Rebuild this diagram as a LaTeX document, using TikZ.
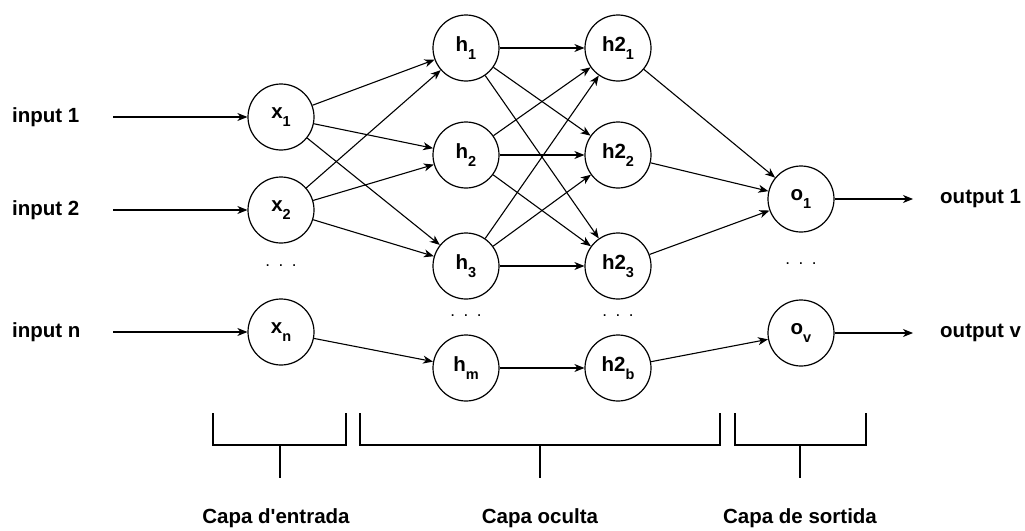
\documentclass[tikz,border=0pt]{standalone}
\usepackage{fontspec}
\setmainfont{Liberation Sans}
\usetikzlibrary{arrows.meta}
\newcommand{\lsub}[1]{\raisebox{-0.4em}{\fontsize{14.5}{14.5}\selectfont #1}}
\begin{document}
\begin{tikzpicture}[x=1pt,y=-1pt,
  neuron/.style={draw, circle, line width=1.2pt, minimum size=66pt, inner sep=0pt,
    font=\fontsize{20.5}{24}\selectfont\bfseries},
  lbl/.style={font=\fontsize{20.5}{24}\selectfont\bfseries, inner sep=0pt},
  dots/.style={font=\fontsize{17}{20}\selectfont, inner sep=0pt},
  arr/.style={line width=1.1pt, -{Stealth[length=10pt,width=8pt,inset=3pt]}},
  brk/.style={line width=1.4pt}]
\useasboundingbox (0,0) rectangle (1025,530);
% input layer
\node[neuron] (x1) at (281,117) {x\lsub{1}};
\node[neuron] (x2) at (281,210) {x\lsub{2}};
\node[dots] (xd) at (281,266) {.\,\,\,.\,\,\,.};
\node[neuron] (xn) at (281,332) {x\lsub{n}};
% hidden layer 1
\node[neuron] (h1) at (466,48) {h\lsub{1}};
\node[neuron] (h2) at (466,155) {h\lsub{2}};
\node[neuron] (h3) at (466,266) {h\lsub{3}};
\node[dots] (hd) at (466,316) {.\,\,\,.\,\,\,.};
\node[neuron] (hm) at (466,368) {h\lsub{m}};
% hidden layer 2
\node[neuron] (g1) at (618,48) {h2\lsub{1}};
\node[neuron] (g2) at (618,155) {h2\lsub{2}};
\node[neuron] (g3) at (618,266) {h2\lsub{3}};
\node[dots] (gd) at (618,316) {.\,\,\,.\,\,\,.};
\node[neuron] (gb) at (618,368) {h2\lsub{b}};
% output layer
\node[neuron] (o1) at (801,199) {o\lsub{1}};
\node[dots] (od) at (801,264) {.\,\,\,.\,\,\,.};
\node[neuron] (ov) at (801,333) {o\lsub{v}};
% input labels
\node[lbl, anchor=west] (i1) at (12,117) {input 1};
\node[lbl, anchor=west] (i2) at (12,210) {input 2};
\node[lbl, anchor=west] (in) at (12,332) {input n};
\coordinate (s1) at (113,117);
\coordinate (s2) at (113,210);
\coordinate (sn) at (113,332);
\draw[arr] (s1) -- (x1);
\draw[arr] (s2) -- (x2);
\draw[arr] (sn) -- (xn);
% output labels
\coordinate (e1) at (913,199);
\coordinate (ev) at (913,333);
\node[lbl, anchor=west] (out1) at (940,199) {output 1};
\node[lbl, anchor=west] (outv) at (940,333) {output v};
\draw[arr] (o1) -- (e1);
\draw[arr] (ov) -- (ev);
% connections
\foreach \a in {x1,x2} \foreach \b in {h1,h2,h3} \draw[arr] (\a) -- (\b);
\draw[arr] (xn) -- (hm);
\foreach \a in {h1,h2,h3} \foreach \b in {g1,g2,g3} \draw[arr] (\a) -- (\b);
\draw[arr] (hm) -- (gb);
\foreach \a in {g1,g2,g3} \draw[arr] (\a) -- (o1);
\draw[arr] (gb) -- (ov);
% brackets
\draw[brk] (213,413) -- (213,445) -- (346,445) -- (346,413);
\draw[brk] (280,445) -- (280,478);
\draw[brk] (360,413) -- (360,445) -- (720,445) -- (720,413);
\draw[brk] (540,445) -- (540,478);
\draw[brk] (735,413) -- (735,445) -- (866,445) -- (866,413);
\draw[brk] (800,445) -- (800,478);
\node[lbl] (c1) at (276,518) {Capa d\textquotesingle entrada};
\node[lbl] (c2) at (540,518) {Capa oculta};
\node[lbl] (c3) at (800,518) {Capa de sortida};
\end{tikzpicture}
\end{document}
